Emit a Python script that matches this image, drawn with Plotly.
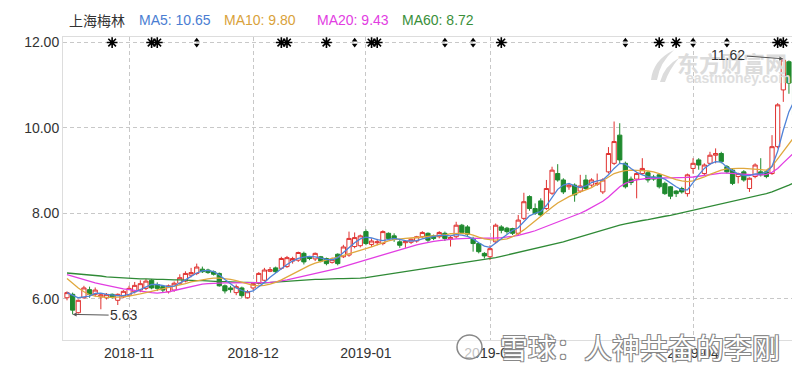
import pandas as pd
import plotly.graph_objects as go

# ---------------- data ----------------
holidays = ["2018-12-31", "2019-01-01", "2019-02-04", "2019-02-05", "2019-02-06",
            "2019-02-07", "2019-02-08", "2019-04-05"]
dates = [d.strftime("%Y-%m-%d") for d in pd.bdate_range("2018-10-17", "2019-04-26")
         if d.strftime("%Y-%m-%d") not in holidays]

open_ = [6.02, 6.10, 5.67, 6.02, 6.21, 6.10, 6.04, 6.02, 6.10, 5.96,
         6.04, 6.08, 6.16, 6.20, 6.24, 6.43, 6.33, 6.28, 6.16, 6.20,
         6.36, 6.41, 6.55, 6.59, 6.69, 6.67, 6.63, 6.59, 6.30, 6.25,
         6.14, 6.25, 6.02, 6.25, 6.36, 6.43, 6.64, 6.72, 6.71, 6.75,
         6.88, 6.90, 7.06, 6.98, 6.93, 6.98, 6.94, 6.85, 7.04, 6.98,
         7.02, 7.22, 7.24, 7.57, 7.27, 7.31, 7.29, 7.53, 7.47, 7.33,
         7.31, 7.32, 7.35, 7.45, 7.53, 7.47, 7.45, 7.53, 7.40, 7.45,
         7.72, 7.68, 7.41, 7.29, 7.06, 6.98, 7.33, 7.68, 7.65, 7.64,
         7.53, 7.88, 8.39, 8.11, 8.29, 8.11, 8.47, 8.93, 8.78, 8.62,
         8.66, 8.52, 8.78, 8.66, 8.68, 8.50, 8.97, 9.17, 9.83, 9.17,
         8.80, 8.80, 8.93, 8.95, 8.85, 8.90, 8.70, 8.62, 8.52, 8.58,
         8.46, 9.05, 9.25, 8.93, 9.17, 9.36, 9.40, 9.09, 9.01, 8.86,
         8.97, 8.58, 8.86, 8.97, 8.97, 8.93, 9.56, 10.89, 11.55, 11.13]
high = [6.17, 6.14, 5.98, 6.30, 6.28, 6.26, 6.12, 6.13, 6.12, 6.12,
        6.20, 6.30, 6.39, 6.43, 6.46, 6.46, 6.38, 6.32, 6.33, 6.40,
        6.57, 6.64, 6.72, 6.82, 6.75, 6.70, 6.66, 6.61, 6.33, 6.30,
        6.33, 6.28, 6.20, 6.37, 6.62, 6.72, 6.74, 6.75, 6.98, 7.00,
        6.98, 7.10, 7.10, 7.00, 7.08, 7.00, 6.96, 6.96, 7.06, 7.26,
        7.57, 7.55, 7.50, 7.62, 7.41, 7.40, 7.60, 7.55, 7.53, 7.37,
        7.37, 7.41, 7.47, 7.58, 7.55, 7.50, 7.58, 7.57, 7.47, 7.80,
        7.75, 7.72, 7.45, 7.31, 7.09, 7.25, 7.76, 7.72, 7.68, 7.66,
        7.96, 8.48, 8.42, 8.23, 8.35, 8.78, 9.09, 9.15, 8.82, 8.70,
        8.70, 8.90, 8.90, 8.82, 8.93, 8.82, 9.55, 10.15, 10.11, 9.21,
        8.86, 8.97, 9.29, 8.99, 8.90, 8.93, 8.74, 8.64, 8.54, 8.62,
        8.93, 9.29, 9.29, 9.17, 9.44, 9.52, 9.44, 9.13, 9.05, 8.95,
        9.01, 8.84, 9.17, 9.29, 9.01, 9.83, 10.58, 11.62, 11.58, 11.20]
low = [5.96, 5.63, 5.65, 6.00, 6.02, 6.05, 5.75, 5.98, 6.00, 5.85,
       6.01, 6.05, 6.12, 6.15, 6.20, 6.22, 6.18, 6.14, 6.12, 6.16,
       6.32, 6.38, 6.50, 6.55, 6.60, 6.58, 6.54, 6.28, 6.12, 6.14,
       6.08, 6.02, 6.00, 6.20, 6.33, 6.40, 6.62, 6.60, 6.68, 6.72,
       6.82, 6.86, 6.80, 6.90, 6.88, 6.85, 6.78, 6.82, 6.78, 6.95,
       6.98, 7.18, 7.20, 7.25, 7.21, 7.25, 7.25, 7.38, 7.33, 7.19,
       7.19, 7.28, 7.31, 7.41, 7.33, 7.37, 7.41, 7.35, 7.22, 7.41,
       7.52, 7.47, 7.10, 7.06, 6.94, 6.90, 7.29, 7.53, 7.52, 7.49,
       7.49, 7.84, 8.06, 7.96, 7.92, 8.08, 8.43, 8.74, 8.45, 8.55,
       8.27, 8.48, 8.55, 8.62, 8.64, 8.45, 8.93, 9.13, 9.17, 8.58,
       8.66, 8.35, 8.90, 8.72, 8.76, 8.58, 8.43, 8.33, 8.38, 8.46,
       8.39, 8.93, 9.02, 8.88, 9.13, 9.17, 9.17, 8.93, 8.66, 8.70,
       8.74, 8.50, 8.82, 8.86, 8.82, 8.90, 9.52, 10.61, 10.80, 10.24]
close = [6.14, 5.73, 5.96, 6.25, 6.10, 6.20, 6.09, 6.10, 6.04, 6.10,
         6.17, 6.24, 6.31, 6.35, 6.41, 6.25, 6.24, 6.20, 6.30, 6.36,
         6.49, 6.59, 6.61, 6.74, 6.63, 6.61, 6.57, 6.30, 6.18, 6.21,
         6.28, 6.07, 6.16, 6.35, 6.59, 6.67, 6.68, 6.63, 6.94, 6.96,
         6.94, 7.08, 6.86, 6.94, 7.06, 6.88, 6.82, 6.92, 6.82, 7.21,
         7.41, 7.43, 7.47, 7.29, 7.35, 7.33, 7.57, 7.41, 7.39, 7.25,
         7.34, 7.39, 7.45, 7.55, 7.37, 7.41, 7.55, 7.41, 7.43, 7.72,
         7.55, 7.51, 7.29, 7.10, 7.00, 7.17, 7.72, 7.60, 7.57, 7.53,
         7.84, 8.27, 8.11, 8.00, 7.96, 8.58, 9.01, 8.78, 8.50, 8.66,
         8.43, 8.64, 8.58, 8.78, 8.70, 8.78, 9.40, 9.68, 9.25, 8.62,
         8.72, 8.93, 9.05, 8.78, 8.80, 8.62, 8.46, 8.40, 8.46, 8.50,
         8.90, 9.17, 9.13, 9.13, 9.36, 9.40, 9.21, 8.97, 8.70, 8.93,
         8.78, 8.82, 9.13, 8.90, 8.86, 9.56, 10.54, 11.59, 11.05, 10.30]

ma5 = [6.14, 6.08, 6.02, 6.04, 6.06, 6.12, 6.13, 6.10, 6.08, 6.07,
       6.07, 6.10, 6.15, 6.21, 6.28, 6.33, 6.33, 6.31, 6.28, 6.29,
       6.36, 6.44, 6.52, 6.60, 6.65, 6.66, 6.63, 6.56, 6.45, 6.35,
       6.25, 6.19, 6.15, 6.18, 6.27, 6.38, 6.50, 6.60, 6.71, 6.80,
       6.88, 6.94, 6.97, 6.99, 6.98, 6.95, 6.92, 6.91, 6.96, 7.08,
       7.20, 7.31, 7.40, 7.44, 7.42, 7.38, 7.36, 7.38, 7.41, 7.39,
       7.36, 7.35, 7.36, 7.40, 7.43, 7.46, 7.48, 7.48, 7.47, 7.50,
       7.49, 7.46, 7.40, 7.31, 7.23, 7.20, 7.30, 7.42, 7.52, 7.60,
       7.66, 7.80, 7.94, 8.00, 8.04, 8.18, 8.36, 8.56, 8.66, 8.70,
       8.64, 8.60, 8.64, 8.72, 8.76, 8.78, 8.90, 9.05, 9.17, 9.15,
       9.05, 8.96, 8.90, 8.86, 8.84, 8.84, 8.80, 8.70, 8.62, 8.55,
       8.55, 8.72, 8.90, 9.05, 9.15, 9.21, 9.20, 9.08, 9.00, 8.92,
       8.88, 8.88, 8.92, 8.93, 8.96, 9.10, 9.45, 9.95, 10.38, 10.65]
ma10 = [6.47, 6.35, 6.25, 6.16, 6.09, 6.06, 6.04, 6.03, 6.03, 6.03,
        6.04, 6.06, 6.08, 6.11, 6.14, 6.17, 6.20, 6.22, 6.25, 6.28,
        6.31, 6.35, 6.39, 6.42, 6.44, 6.46, 6.48, 6.48, 6.47, 6.45,
        6.42, 6.38, 6.34, 6.31, 6.30, 6.31, 6.34, 6.38, 6.44, 6.51,
        6.58, 6.65, 6.72, 6.78, 6.83, 6.87, 6.91, 6.94, 6.97, 7.01,
        7.05, 7.08, 7.12, 7.16, 7.21, 7.26, 7.31, 7.35, 7.38, 7.40,
        7.41, 7.42, 7.43, 7.44, 7.45, 7.46, 7.47, 7.49, 7.52, 7.53,
        7.53, 7.52, 7.49, 7.44, 7.40, 7.38, 7.37, 7.38, 7.40, 7.45,
        7.52, 7.61, 7.72, 7.83, 7.94, 8.04, 8.14, 8.24, 8.32, 8.39,
        8.45, 8.50, 8.55, 8.60, 8.68, 8.76, 8.86, 8.93, 8.97, 9.00,
        9.01, 9.01, 9.00, 8.99, 8.97, 8.93, 8.88, 8.83, 8.79, 8.76,
        8.74, 8.76, 8.80, 8.85, 8.91, 8.96, 9.01, 9.04, 9.05, 9.05,
        9.05, 9.04, 9.03, 9.02, 9.01, 9.10, 9.27, 9.45, 9.63, 9.80]
ma20 = [6.56, 6.52, 6.48, 6.44, 6.40, 6.37, 6.34, 6.31, 6.28, 6.25,
        6.23, 6.21, 6.19, 6.17, 6.15, 6.14, 6.13, 6.14, 6.16, 6.19,
        6.22, 6.26, 6.29, 6.32, 6.34, 6.35, 6.36, 6.36, 6.37, 6.37,
        6.37, 6.37, 6.37, 6.37, 6.37, 6.38, 6.38, 6.39, 6.41, 6.44,
        6.47, 6.50, 6.53, 6.55, 6.58, 6.61, 6.64, 6.67, 6.71, 6.75,
        6.79, 6.83, 6.87, 6.91, 6.95, 6.99, 7.03, 7.07, 7.11, 7.15,
        7.19, 7.23, 7.26, 7.29, 7.32, 7.34, 7.36, 7.38, 7.39, 7.40,
        7.41, 7.41, 7.41, 7.41, 7.41, 7.41, 7.42, 7.43, 7.44, 7.46,
        7.48, 7.51, 7.55, 7.59, 7.64, 7.69, 7.75, 7.80, 7.85, 7.90,
        7.95, 8.00, 8.06, 8.13, 8.20, 8.28, 8.38, 8.50, 8.62, 8.70,
        8.75, 8.78, 8.80, 8.82, 8.82, 8.83, 8.83, 8.83, 8.83, 8.83,
        8.84, 8.85, 8.87, 8.89, 8.91, 8.93, 8.94, 8.94, 8.93, 8.92,
        8.91, 8.90, 8.90, 8.90, 8.91, 8.96, 9.05, 9.18, 9.31, 9.43]
ma60 = [6.60, 6.59, 6.57, 6.56, 6.55, 6.54, 6.53, 6.51, 6.50, 6.49,
        6.48, 6.47, 6.47, 6.46, 6.46, 6.45, 6.45, 6.45, 6.44, 6.44,
        6.44, 6.43, 6.43, 6.42, 6.42, 6.41, 6.41, 6.40, 6.40, 6.39,
        6.39, 6.38, 6.38, 6.37, 6.37, 6.37, 6.38, 6.38, 6.39, 6.40,
        6.41, 6.42, 6.43, 6.44, 6.45, 6.45, 6.46, 6.46, 6.47, 6.47,
        6.47, 6.48, 6.48, 6.49, 6.51, 6.53, 6.55, 6.57, 6.59, 6.61,
        6.63, 6.65, 6.67, 6.69, 6.71, 6.73, 6.75, 6.77, 6.79, 6.81,
        6.83, 6.85, 6.87, 6.89, 6.91, 6.93, 6.96, 6.99, 7.02, 7.05,
        7.08, 7.11, 7.14, 7.17, 7.20, 7.23, 7.26, 7.30, 7.33, 7.37,
        7.41, 7.45, 7.49, 7.53, 7.57, 7.61, 7.65, 7.69, 7.72, 7.75,
        7.78, 7.80, 7.83, 7.85, 7.88, 7.90, 7.93, 7.95, 7.98, 8.00,
        8.03, 8.06, 8.09, 8.12, 8.15, 8.18, 8.21, 8.24, 8.27, 8.30,
        8.33, 8.36, 8.39, 8.42, 8.46, 8.50, 8.55, 8.60, 8.66, 8.72]

# event marks along the top (index of trading day)
star_events = [8, 15, 16, 38, 39, 46, 54, 55, 77, 105, 108, 126, 127]
updown_events = [23, 51, 67, 72, 99, 111, 117]
event_level = 12.0

tick_dates = ["2018-11-01", "2018-12-03", "2019-01-02", "2019-02-01", "2019-04-01"]
tick_text = ["2018-11", "2018-12", "2019-01", "2019-02", "2019-04"]
y_ticks = [6, 8, 10, 12]

stock_name = "上海梅林"
ma_names = ["MA5", "MA10", "MA20", "MA60"]
ma_last = ["10.65", "9.80", "9.43", "8.72"]

low_label = ("2018-10-18", 5.63, "5.63")
high_label = ("2019-04-24", 11.62, "11.62")

# ---------------- styles ----------------
RED = "#e0312f"
GREEN = "#1f8a2e"
ma_colors = ["#4f83d8", "#e0a83e", "#e23de2", "#2f8a36"]
legend_colors = ["#4a7dd2", "#d9a23a", "#e23de2", "#3a8f3a"]
TXT = "#333333"
FONT = "Liberation Sans, Arial, Noto Sans CJK SC, sans-serif"
CJK = "Noto Sans CJK SC, sans-serif"

# the page places the figure 8px from the top-left corner (default body margin),
# so the figure is sized / margined to put the plot area at screen 63..800 x 37..340
OFF = 8
W, H = 800 - OFF, 368 - OFF
L, R, T, B = 63 - OFF, 0, 37 - OFF, 28
PLOT_L, PLOT_T, PLOT_B = 63, 37, 340
PW, PH = 737, 303


def px(xp):
    return (xp - PLOT_L) / PW


def py(yp):
    return (PLOT_B - yp) / PH


fig = go.Figure()

fig.add_trace(go.Candlestick(
    x=dates, open=open_, high=high, low=low, close=close,
    increasing=dict(line=dict(color=RED, width=1), fillcolor="#ffffff"),
    decreasing=dict(line=dict(color=GREEN, width=1), fillcolor=GREEN),
    whiskerwidth=0, showlegend=False, hoverinfo="skip",
))

for vals, col in zip([ma60, ma20, ma10, ma5], [ma_colors[3], ma_colors[2], ma_colors[1], ma_colors[0]]):
    fig.add_trace(go.Scatter(x=dates, y=vals, mode="lines",
                             line=dict(color=col, width=1.3),
                             showlegend=False, hoverinfo="skip"))

# event markers
sx = [dates[i] for i in star_events]
fig.add_trace(go.Scatter(x=sx, y=[event_level] * len(sx), mode="markers",
                         marker=dict(symbol="asterisk-open", size=9,
                                     line=dict(color="#000", width=1.6), color="#000"),
                         showlegend=False, hoverinfo="skip", cliponaxis=False))
fig.add_trace(go.Scatter(x=sx, y=[event_level] * len(sx), mode="markers",
                         marker=dict(symbol="circle", size=4, color="#000"),
                         showlegend=False, hoverinfo="skip", cliponaxis=False))
ux = [dates[i] for i in updown_events]
fig.add_trace(go.Scatter(x=ux, y=[event_level + 0.055] * len(ux), mode="markers",
                         marker=dict(symbol="triangle-up", size=5, color="#000"),
                         showlegend=False, hoverinfo="skip", cliponaxis=False))
fig.add_trace(go.Scatter(x=ux, y=[event_level - 0.055] * len(ux), mode="markers",
                         marker=dict(symbol="triangle-down", size=5, color="#000"),
                         showlegend=False, hoverinfo="skip", cliponaxis=False))

annotations = []
# watermark (eastmoney)
annotations.append(dict(xref="paper", yref="paper", x=px(732), y=py(62), text="东方财富网",
                        xanchor="center", yanchor="middle",
                        showarrow=False, font=dict(family=CJK, size=22, color="#dcdcdc", weight="bold")))
annotations.append(dict(xref="paper", yref="paper", x=px(738), y=py(78), text="eastmoney.com",
                        xanchor="center", yanchor="middle",
                        showarrow=False, font=dict(family="Liberation Sans, Arial", size=14,
                                                   color="#dedede", weight="bold")))

# legend line
leg_x = [67, 137, 222, 315, 400]
leg_text = [stock_name] + [f"{n}: {v}" for n, v in zip(ma_names, ma_last)]
leg_col = [TXT] + legend_colors
for xx, tt, cc in zip(leg_x, leg_text, leg_col):
    annotations.append(dict(xref="paper", yref="paper", x=px(xx), y=py(20), text=tt,
                            showarrow=False, xanchor="left", yanchor="middle",
                            font=dict(family=FONT if tt != stock_name else CJK, size=14, color=cc)))

# low / high labels
annotations.append(dict(x=low_label[0], y=low_label[1], text=low_label[2], showarrow=True,
                        ax=51, ay=1, arrowhead=2, arrowsize=0.8, arrowwidth=1, arrowcolor="#555",
                        font=dict(family=FONT, size=14, color=TXT)))
annotations.append(dict(x=high_label[0], y=high_label[1], text=high_label[2], showarrow=True,
                        ax=-55, ay=-4, arrowhead=2, arrowsize=0.8, arrowwidth=1, arrowcolor="#555",
                        font=dict(family=FONT, size=14, color=TXT)))

# watermark (xueqiu)
annotations.append(dict(xref="paper", yref="paper", x=px(498), y=py(347), text="雪球：人神共奋的李刚",
                        showarrow=False, xanchor="left", yanchor="middle",
                        font=dict(family=CJK, size=28, color="#ffffff",
                                  shadow="-1px -1px 0 #888, 1px -1px 0 #888, -1px 1px 0 #888, 1px 1px 0 #888")))


def path_px(points):
    s = "M {:.5f},{:.5f}".format(px(points[0][0]), py(points[0][1]))
    for a, b, c, d in points[1:]:
        s += " Q {:.5f},{:.5f} {:.5f},{:.5f}".format(px(a), py(b), px(c), py(d))
    return s + " Z"


shapes = [
    # xueqiu logo
    dict(type="circle", xref="paper", yref="paper",
         x0=px(457), x1=px(482), y0=py(335), y1=py(359),
         line=dict(color="#888", width=1.5), fillcolor="rgba(255,255,255,0.7)"),
    # eastmoney swoosh logo
    dict(type="path", xref="paper", yref="paper",
         path=path_px([(651, 80), (653, 60, 674, 50), (660, 62, 657, 80)]),
         line=dict(width=0), fillcolor="#dcdcdc"),
    dict(type="path", xref="paper", yref="paper",
         path=path_px([(660, 82), (664, 66, 679, 58), (669, 70, 665, 82)]),
         line=dict(width=0), fillcolor="#dcdcdc"),
]

fig.update_layout(
    width=W, height=H,
    margin=dict(l=L, r=R, t=T, b=B, pad=0, autoexpand=False),
    paper_bgcolor="#ffffff", plot_bgcolor="#ffffff",
    font=dict(family=FONT, size=14, color=TXT),
    boxgap=0.25, boxgroupgap=0,
    annotations=annotations, shapes=shapes,
    showlegend=False,
    xaxis=dict(type="category", range=[-0.71, 129.96], automargin=False,
               tickmode="array", tickvals=tick_dates, ticktext=tick_text,
               showgrid=True, gridcolor="#c8c8c8", griddash="4px,3px", gridwidth=1,
               showline=True, linecolor="#dddddd", mirror=True,
               ticks="", rangeslider=dict(visible=False),
               tickfont=dict(size=14, color=TXT)),
    yaxis=dict(range=[5.03, 12.13], tickmode="array", tickvals=y_ticks, tickformat=".2f",
               automargin=False,
               showgrid=True, gridcolor="#c8c8c8", griddash="4px,3px", gridwidth=1,
               zeroline=False, showline=True, linecolor="#dddddd", ticks="",
               tickfont=dict(size=14, color=TXT)),
)

fig.write_html("out.html")
